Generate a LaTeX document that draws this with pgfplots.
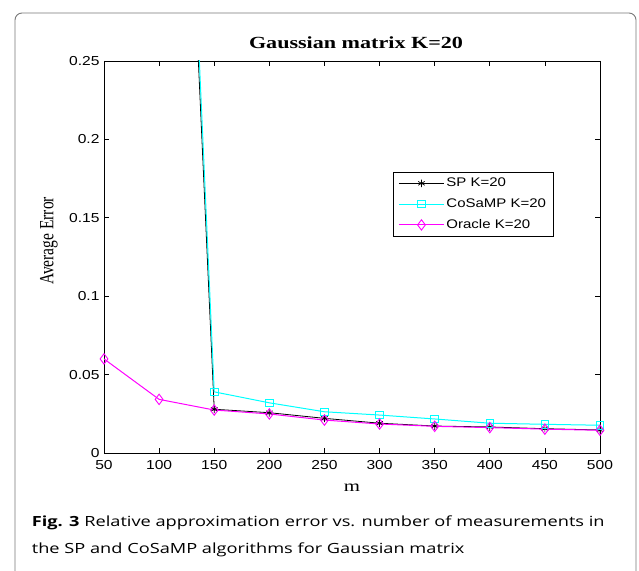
\documentclass[border=0pt]{standalone}
\usepackage{graphicx}
\usepackage{pgfplots}
\pgfplotsset{compat=1.18}
\usepackage{fontspec}
\setmainfont{Liberation Sans}
\newfontfamily\tickfont[FakeStretch=1.2]{Liberation Sans}
\newfontfamily\tsfont[FakeStretch=1.3]{Liberation Serif}
\newfontfamily\ylfont{Liberation Serif}
\newfontfamily\capfont[FakeStretch=1.3]{Open Sans}
\definecolor{framegray}{RGB}{120,120,120}
\definecolor{mcyan}{RGB}{0,255,255}
\definecolor{mmag}{RGB}{255,0,255}
\begin{document}
\begin{tikzpicture}
\useasboundingbox (0,0) rectangle (639bp,571bp);
\draw[framegray, line width=0.9bp, rounded corners=7bp] (15bp,-10bp) -- (15bp,558bp) -- (636bp,558bp) -- (636bp,-10bp);
\begin{axis}[
  at={(104bp,118bp)}, anchor=south west,
  scale only axis, width=496bp, height=392bp,
  xmin=50, xmax=500, ymin=0, ymax=0.25,
  xtick={50,100,150,200,250,300,350,400,450,500},
  ytick={0,0.05,0.1,0.15,0.2,0.25},
  yticklabels={0,0.05,0.1,0.15,0.2,0.25},
  tick align=inside, major tick length=5bp,
  axis line style={line width=0.7bp},
  every tick/.style={black, line width=0.6bp},
  tick label style={font=\tickfont\fontsize{13bp}{15bp}\selectfont},
  /pgf/number format/assume math mode=true,
  xticklabel style={yshift=-3.5bp},
  yticklabel style={xshift=-1bp},
  legend style={at={(0.583,0.717)}, anchor=north west, draw=black, line width=0.6bp,
    font=\tickfont\fontsize{12.5bp}{15bp}\selectfont, inner xsep=5bp, inner ysep=4bp,
    row sep=6.5bp},
  legend cell align=left,
  legend image code/.code={\draw[mark repeat=2,mark phase=2,#1] plot coordinates {(0bp,0bp) (22.5bp,0bp) (45bp,0bp)};},
]
\addplot[black, line width=0.8bp, mark=asterisk, mark size=3.8bp, mark options={line width=0.7bp}] coordinates {
 (50,0.95) (100,0.80) (150,0.0279) (200,0.0257) (250,0.0221) (300,0.0190) (350,0.0172) (400,0.0166) (450,0.0155) (500,0.0147)};
\addlegendentry{SP K=20}
\addplot[mcyan, line width=1bp, mark=square, mark size=3.8bp, mark options={line width=0.9bp}] coordinates {
 (50,0.97) (100,0.82) (150,0.0390) (200,0.0320) (250,0.0263) (300,0.0242) (350,0.0217) (400,0.0190) (450,0.0183) (500,0.0177)};
\addlegendentry{CoSaMP K=20}
\addplot[mmag, line width=1bp, mark=diamond, mark size=5.2bp, mark options={line width=0.9bp}] coordinates {
 (50,0.0600) (100,0.0342) (150,0.0274) (200,0.0249) (250,0.0210) (300,0.0185) (350,0.0170) (400,0.0162) (450,0.0152) (500,0.0145)};
\addlegendentry{Oracle K=20}
\end{axis}
\node[anchor=base, font=\tsfont\bfseries\fontsize{17bp}{19bp}\selectfont] at (356bp,522bp) {Gaussian matrix K=20};
\node[anchor=base, font=\tsfont\fontsize{16bp}{18bp}\selectfont] at (352bp,79bp) {m};
\node[anchor=east, inner sep=0pt] at (58bp,330bp) {\rotatebox{90}{\scalebox{1}[1.3]{\ylfont\fontsize{15.5bp}{18bp}\selectfont Average Error}}};
\node[anchor=base west, inner sep=0pt, font=\capfont\fontsize{14bp}{16bp}\selectfont] at (31.7bp,44bp) {\textbf{Fig. 3} Relative approximation error vs. number of measurements in};
\node[anchor=base west, inner sep=0pt, font=\capfont\fontsize{14bp}{16bp}\selectfont] at (31.7bp,18bp) {the SP and CoSaMP algorithms for Gaussian matrix};
\end{tikzpicture}
\end{document}
